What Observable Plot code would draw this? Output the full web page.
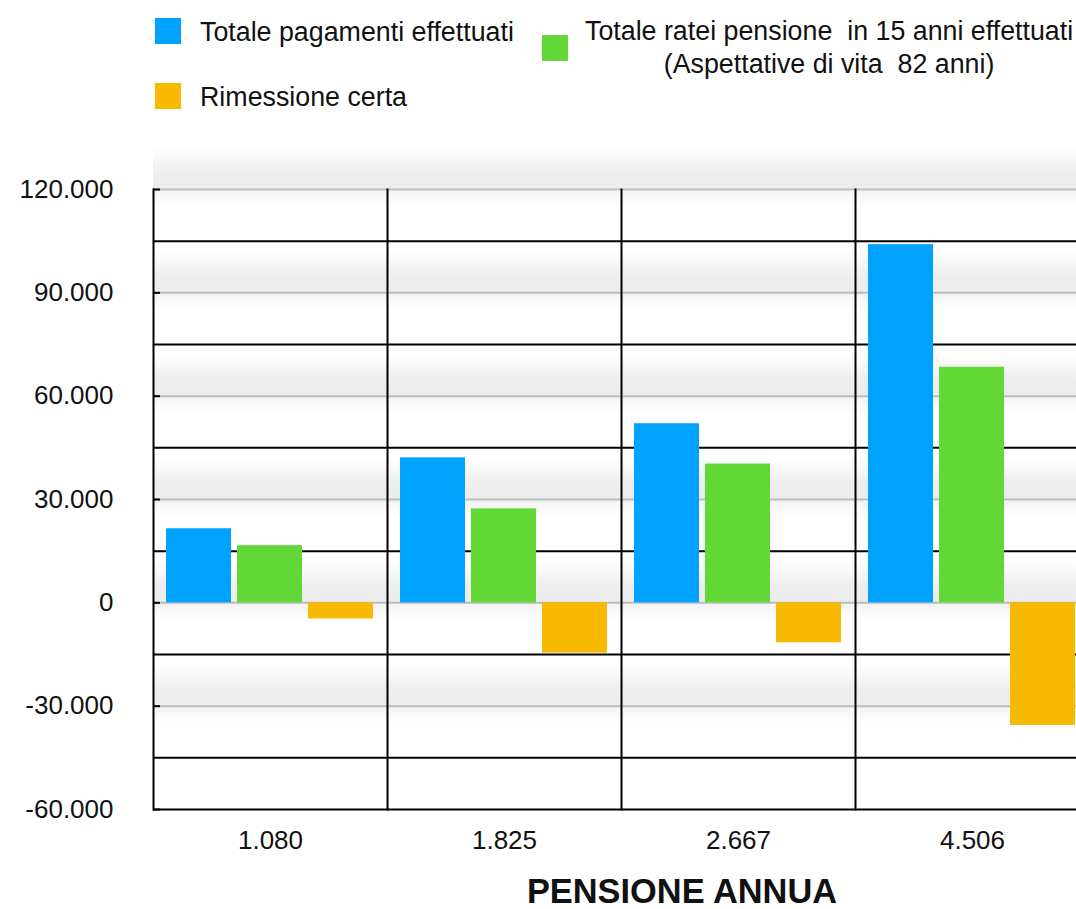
<!DOCTYPE html>
<html>
<head>
<meta charset="utf-8">
<script src="https://cdn.jsdelivr.net/npm/d3@7"></script>
<script src="https://cdn.jsdelivr.net/npm/@observablehq/plot@0.6"></script>
<style>
  html, body { margin: 0; padding: 0; background: #fff; }
  body { width: 1076px; height: 909px; overflow: hidden; position: relative;
         font-family: "Liberation Sans", Arial, Helvetica, sans-serif; color: #111; }
  .sw { position: absolute; width: 26px; height: 26px; }
  .lt { position: absolute; font-size: 26.8px; white-space: pre; line-height: 26px; }
  #chart { position: absolute; left: 0; top: 150px; width: 1090px; }
  #chart svg { max-width: none !important; }
  #title { position: absolute; left: 682px; top: 874px; transform: translateX(-50%);
           font-size: 34.4px; font-weight: bold; white-space: nowrap; line-height: 34px; }
</style>
</head>
<body>
<svg width="0" height="0" style="position:absolute">
  <defs>
    <linearGradient id="shade" x1="0" y1="0" x2="0" y2="1">
      <stop offset="0%" stop-color="#eeeeee" stop-opacity="0"/>
      <stop offset="60%" stop-color="#eeeeee" stop-opacity="1"/>
      <stop offset="100%" stop-color="#ececec" stop-opacity="1"/>
    </linearGradient>
    <linearGradient id="shadeDown" x1="0" y1="0" x2="0" y2="1">
      <stop offset="0%" stop-color="#f2f2f2" stop-opacity="1"/>
      <stop offset="100%" stop-color="#f2f2f2" stop-opacity="0"/>
    </linearGradient>
  </defs>
</svg>
<div id="legend"></div>
<div id="chart"></div>
<div id="title">PENSIONE ANNUA</div>
<script>
const categories = ["1.080", "1.825", "2.667", "4.506"];
const series = [
  "Totale pagamenti effettuati",
  "Totale ratei pensione  in 15 anni effettuati",
  "Rimessione certa"
];
const pagamenti = [21500, 42100, 52000, 104000];
const ratei = [16600, 27300, 40300, 68400];
const rimessione = [-4700, -14600, -11600, -35600];
const yTicks = [-60000, -30000, 0, 30000, 60000, 90000, 120000];
const midLines = [-60000, -45000, -15000, 15000, 45000, 75000, 105000];
const colors = ["#00a2ff", "#61d836", "#f8ba00"];

const seriesValues = [pagamenti, ratei, rimessione];
const rows = categories.flatMap((c, i) =>
  series.map((s, j) => ({cat: c, series: s, value: seriesValues[j][i]})));

const locale = d3.formatLocale({decimal: ",", thousands: ".", grouping: [3], currency: ["€", ""], minus: "-"});
const fmt = locale.format(",d");

// Legend (HTML)
const legend = document.getElementById("legend");
legend.innerHTML = `
  <div class="sw" style="left:155px;top:18px;background:${colors[0]}"></div>
  <div class="lt" style="left:200px;top:19px">${series[0]}</div>
  <div class="sw" style="left:542px;top:35px;background:${colors[1]}"></div>
  <div class="lt" style="left:585px;top:15px;line-height:33px;text-align:center">${series[1]}<br>(Aspettative di vita  82 anni)</div>
  <div class="sw" style="left:155px;top:83px;background:${colors[2]}"></div>
  <div class="lt" style="left:200px;top:84px">${series[2]}</div>
`;

const chart = Plot.plot({
  width: 1090,
  height: 759,
  marginTop: 39,
  marginBottom: 100,
  marginLeft: 152,
  marginRight: 0,
  style: {fontFamily: '"Liberation Sans", Arial, Helvetica, sans-serif', fontSize: "26px", color: "#111", background: "transparent", overflow: "visible", maxWidth: "none"},
  y: {domain: [-60000, 120000]},
  fx: {domain: categories, padding: 0},
  x: {domain: series, axis: null, paddingInner: 0.08, paddingOuter: 0.168},
  color: {domain: series, range: colors},
  marks: [
    Plot.rect(yTicks.filter(t => t > -60000), {y1: d => d, y2: d => d + 12000, fill: "url(#shade)"}),
    Plot.rect(yTicks.filter(t => t > -60000), {y1: d => d - 5000, y2: d => d, fill: "url(#shadeDown)"}),
    Plot.ruleY(yTicks.filter(t => t > -60000), {stroke: "#bdbdbd", strokeWidth: 2}),
    Plot.ruleY(midLines, {stroke: "#000", strokeWidth: 2}),
    Plot.barY(rows, {fx: "cat", x: "series", y: "value", fill: "series"}),
    Plot.frame({anchor: "left", stroke: "#000", strokeWidth: 2}),
    Plot.axisY({ticks: yTicks, tickFormat: fmt, tickSize: -7, tickPadding: 47, strokeWidth: 2, stroke: "#000", label: null}),
    Plot.axisFx({anchor: "bottom", tickSize: 0, tickPadding: 21, label: null})
  ]
});
document.getElementById("chart").appendChild(chart);
</script>
</body>
</html>
